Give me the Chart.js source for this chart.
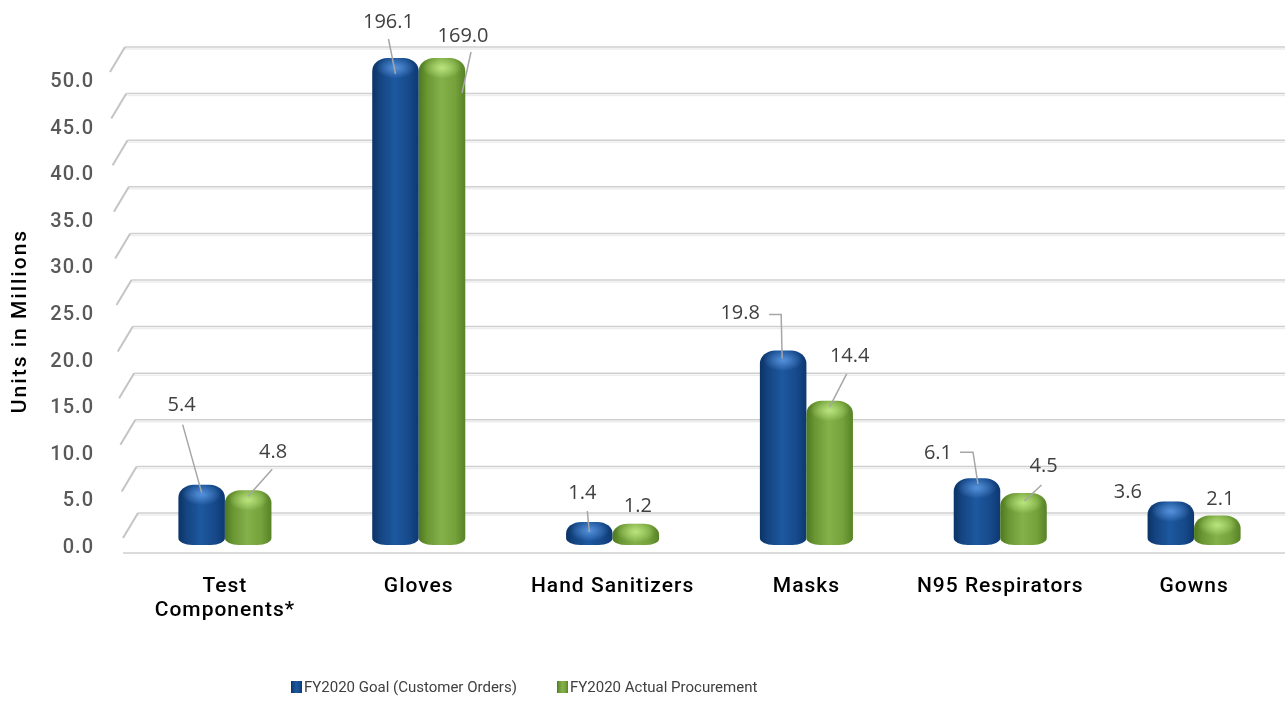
<!DOCTYPE html>
<html>
<head>
<meta charset="utf-8">
<script src="https://cdn.jsdelivr.net/npm/chart.js@4.4.0/dist/chart.umd.min.js"></script>
<style>
html, body { margin: 0; padding: 0; background: #fff; overflow: hidden; }
#wrap { width: 1300px; height: 719px; }
</style>
</head>
<body>
<div id="wrap"><canvas id="myChart" width="1300" height="719"></canvas></div>
<script>
// chart data
var categories = [["Test", "Components*"], "Gloves", "Hand Sanitizers", "Masks", "N95 Respirators", "Gowns"];
var seriesNames = ["FY2020 Goal (Customer Orders)", "FY2020 Actual Procurement"];
var goalValues = [5.4, 196.1, 1.4, 19.8, 6.1, 3.6];
var actualValues = [4.8, 169.0, 1.2, 14.4, 4.5, 2.1];
var yMin = 0, yMax = 50, yStep = 5;
var yTitle = "Units in Millions";

// label placement, relative to the top centre of each bar (style only)
// off: label centre; line: points, first ones relative to label, last one relative to bar top
var labelPlace = [
    [
        {off: [-20, -79], line: [[1, 19], [0, 8]]},
        {off: [-7, -36], line: [[0, 17], [0, 16]]},
        {off: [-7, -29], line: [[5, 18], [0, 10]]},
        {off: [-43, -37], line: [[29, 1], [41, 1], [-1, 8]]},
        {off: [-39, -25], line: [[22, -1], [35, -1], [1, 6]]},
        {off: [-43, -9], line: null}
    ],
    [
        {off: [25, -38], line: [[-1, 17], [0, 6]]},
        {off: [21, -22], line: [[8, 16], [20, 35]]},
        {off: [2, -18], line: null},
        {off: [20, -44], line: [[-3, 17], [0, 6]]},
        {off: [20, -27], line: [[-2, 19], [1, 8]]},
        {off: [3, -16], line: null}
    ]
];

var palettes = [
    {body: [[0, "#0b3366"], [0.18, "#154582"], [0.48, "#1d589f"], [0.78, "#174a8b"], [1, "#0d3872"]],
     hi: "rgba(95,155,230,0.85)", hi0: "rgba(95,155,230,0)"},
    {body: [[0, "#4d7821"], [0.18, "#6a9733"], [0.48, "#84b14a"], [0.78, "#75a23b"], [1, "#578227"]],
     hi: "rgba(195,238,135,0.85)", hi0: "rgba(195,238,135,0)"}
];

function drawCylinder(ctx, x, y, w, h, pal) {
    var ry = Math.min(13, h * 0.5);
    var rb = Math.min(7, h * 0.3);
    ctx.save();
    ctx.beginPath();
    ctx.roundRect(x, y, w, h, [{x: w * 0.33, y: ry}, {x: w * 0.33, y: ry}, {x: w * 0.3, y: rb}, {x: w * 0.3, y: rb}]);
    var g = ctx.createLinearGradient(x, 0, x + w, 0);
    pal.body.forEach(function (s) { g.addColorStop(s[0], s[1]); });
    ctx.fillStyle = g;
    ctx.fill();
    ctx.clip();
    // highlight on the cap
    var cx = x + w * 0.5, cy = y + ry * 0.75;
    ctx.translate(cx, cy);
    ctx.scale(1, 0.55);
    var rg = ctx.createRadialGradient(0, 0, 0, 0, 0, w * 0.42);
    rg.addColorStop(0, pal.hi);
    rg.addColorStop(1, pal.hi0);
    ctx.fillStyle = rg;
    ctx.beginPath();
    ctx.arc(0, 0, w * 0.42, 0, Math.PI * 2);
    ctx.fill();
    ctx.restore();
}

var spacingPlugin = {
    id: "spacing",
    beforeUpdate: function (chart) { chart.ctx.letterSpacing = "1px"; },
    beforeDraw: function (chart) { chart.ctx.letterSpacing = "1px"; }
};

var cylinderPlugin = {
    id: "cylinders",
    beforeDatasetsDraw: function (chart) {
        var ctx = chart.ctx, ys = chart.scales.y, W = chart.width;
        ctx.save();
        ys.ticks.forEach(function (t) {
            var p = ys.getPixelForValue(t.value);
            var k = (yMax - t.value) / (yMax - yMin);
            var yb = p - 22, xs = 110 + 13 * k;
            ctx.lineWidth = 1.5;
            ctx.strokeStyle = "#cfcfcf";
            ctx.beginPath(); ctx.moveTo(xs + 15, yb); ctx.lineTo(W, yb); ctx.stroke();
            ctx.strokeStyle = "#ededed";
            ctx.beginPath(); ctx.moveTo(xs + 15, yb + 2); ctx.lineTo(W, yb + 2); ctx.stroke();
            ctx.strokeStyle = "#c4c4c4";
            ctx.lineWidth = 2;
            ctx.beginPath(); ctx.moveTo(xs, yb + 25); ctx.lineTo(xs + 15, yb); ctx.stroke();
        });
        // floor front edge
        var p0 = ys.getPixelForValue(yMin);
        ctx.lineWidth = 1.5;
        ctx.strokeStyle = "#cfcfcf";
        ctx.beginPath(); ctx.moveTo(123, p0 + 18); ctx.lineTo(W, p0 + 18); ctx.stroke();
        ctx.restore();
    },
    afterDatasetsDraw: function (chart) {
        var ctx = chart.ctx, area = chart.chartArea;
        chart.data.datasets.forEach(function (ds, di) {
            var meta = chart.getDatasetMeta(di);
            meta.data.forEach(function (bar, i) {
                var w = bar.width, x0 = bar.x - w / 2;
                var top = Math.max(bar.y, area.top - 11);
                var bottom = bar.base + 10;
                drawCylinder(ctx, x0, top, w, bottom - top, palettes[di]);
            });
        });
        // value labels
        ctx.save();
        ctx.letterSpacing = "0px";
        ctx.font = "20px 'Open Sans', sans-serif";
        ctx.fillStyle = "#404040";
        ctx.textAlign = "center";
        ctx.textBaseline = "middle";
        ctx.strokeStyle = "#a6a6a6";
        ctx.lineWidth = 1.5;
        chart.data.datasets.forEach(function (ds, di) {
            var meta = chart.getDatasetMeta(di);
            meta.data.forEach(function (bar, i) {
                var top = Math.max(bar.y, area.top - 11);
                var pl = labelPlace[di][i];
                var lx = bar.x + pl.off[0], ly = top + pl.off[1];
                ctx.fillText(ds.data[i].toFixed(1), lx, ly);
                if (pl.line) {
                    ctx.beginPath();
                    pl.line.forEach(function (pt, j) {
                        var px, py;
                        if (j === pl.line.length - 1) { px = bar.x + pt[0]; py = top + pt[1]; }
                        else { px = lx + pt[0]; py = ly + pt[1]; }
                        if (j === 0) ctx.moveTo(px, py); else ctx.lineTo(px, py);
                    });
                    ctx.stroke();
                }
            });
        });
        ctx.restore();
    },
    afterDraw: function (chart) {
        var ctx = chart.ctx;
        ctx.save();
        // y axis title
        ctx.letterSpacing = "2px";
        ctx.font = "500 21px Roboto, sans-serif";
        ctx.fillStyle = "#000";
        ctx.textAlign = "center";
        ctx.textBaseline = "middle";
        ctx.translate(21, 321);
        ctx.rotate(-Math.PI / 2);
        ctx.fillText(yTitle, 0, 0);
        ctx.restore();
        // legend
        ctx.save();
        ctx.letterSpacing = "0px";
        ctx.font = "15px Roboto, sans-serif";
        ctx.textBaseline = "middle";
        var lx = [291, 557];
        seriesNames.forEach(function (name, i) {
            var g = ctx.createLinearGradient(lx[i], 0, lx[i] + 11, 0);
            palettes[i].body.forEach(function (s) { g.addColorStop(s[0], s[1]); });
            ctx.fillStyle = g;
            ctx.fillRect(lx[i], 681, 11, 12);
            ctx.fillStyle = "#404040";
            ctx.fillText(name, lx[i] + 13, 688);
        });
        ctx.restore();
    }
};

var canvas = document.getElementById("myChart").getContext("2d");
var chart = new Chart(canvas, {
    type: "bar",
    data: {
        labels: categories,
        datasets: [
            {label: seriesNames[0], data: goalValues, backgroundColor: "rgba(0,0,0,0)", borderWidth: 0},
            {label: seriesNames[1], data: actualValues, backgroundColor: "rgba(0,0,0,0)", borderWidth: 0}
        ]
    },
    options: {
        responsive: false,
        animation: false,
        barPercentage: 1,
        categoryPercentage: 0.48,
        layout: {padding: {top: 69, right: 9, left: 0, bottom: 0}},
        plugins: {
            legend: {display: false},
            tooltip: {enabled: false}
        },
        scales: {
            x: {
                grid: {display: false, drawTicks: false},
                border: {display: false},
                ticks: {
                    color: "#000",
                    font: {family: "Roboto", size: 21, weight: "500", lineHeight: 1.15},
                    padding: 40,
                    maxRotation: 0,
                    autoSkip: false
                },
                afterFit: function (s) { s.height = 184; }
            },
            y: {
                min: yMin,
                max: yMax,
                grid: {display: false, drawTicks: false},
                border: {display: false},
                ticks: {
                    stepSize: yStep,
                    color: "#595959",
                    font: {family: "Roboto", size: 20, weight: "500"},
                    padding: 34,
                    labelOffset: 13,
                    callback: function (v) { return v.toFixed(1); }
                },
                afterFit: function (s) { s.width = 128; }
            }
        }
    },
    plugins: [spacingPlugin, cylinderPlugin]
});
</script>
</body>
</html>
